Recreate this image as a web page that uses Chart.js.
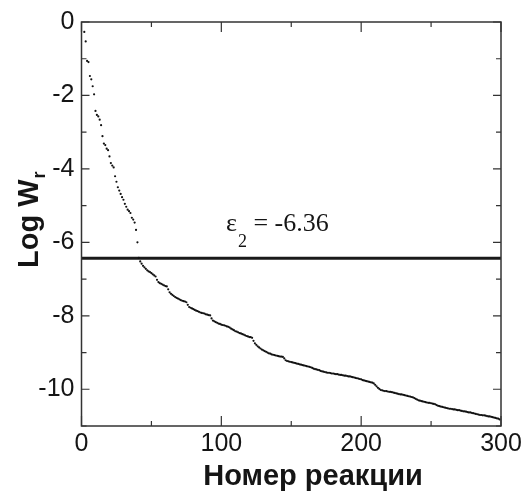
<!DOCTYPE html>
<html>
<head>
<meta charset="utf-8">
<script src="https://cdn.jsdelivr.net/npm/chart.js@4.4.0/dist/chart.umd.min.js"></script>
<style>
  body { margin: 0; background: #fff; }
  canvas { display: block; }
</style>
</head>
<body>
<canvas id="rates-chart" width="526" height="493"></canvas>
<script>
// Log W_r per reaction, starting from reaction number 2
var firstReaction = 2;
var logW = [
  -0.27, -0.53, -1.06, -1.09, -1.47, -1.56, -1.75, -1.97, -2.42, -2.53,
  -2.57, -2.66, -2.81, -3.11, -3.31, -3.35, -3.45, -3.49, -3.66, -3.84,
  -3.91, -3.96, -4.2, -4.35, -4.5, -4.59, -4.68, -4.77, -4.84, -4.95,
  -5.03, -5.11, -5.15, -5.2, -5.33, -5.38, -5.46, -5.66, -6.0,
  -6.42, -6.52, -6.58, -6.64, -6.68, -6.72, -6.76, -6.79, -6.81, -6.84,
  -6.87, -6.9, -6.93, -7.02, -7.08, -7.11, -7.13, -7.15, -7.17, -7.19,
  -7.2, -7.28, -7.36, -7.4, -7.43, -7.46, -7.49, -7.51, -7.53, -7.55,
  -7.57, -7.59, -7.6, -7.61, -7.63, -7.7, -7.76, -7.78, -7.8, -7.82,
  -7.84, -7.86, -7.87, -7.89, -7.91, -7.92, -7.93, -7.94, -7.96, -7.97,
  -7.98, -7.99, -8.07, -8.13, -8.15, -8.17, -8.19, -8.21, -8.22, -8.24,
  -8.25, -8.26, -8.27, -8.29, -8.3, -8.32, -8.35, -8.37, -8.39, -8.42,
  -8.43, -8.45, -8.47, -8.48, -8.5, -8.51, -8.53, -8.55, -8.56, -8.58,
  -8.58, -8.6, -8.68, -8.75, -8.79, -8.83, -8.86, -8.89, -8.92, -8.94,
  -8.96, -8.98, -9.0, -9.02, -9.03, -9.05, -9.06, -9.07, -9.08, -9.09,
  -9.1, -9.11, -9.11, -9.12, -9.16, -9.21, -9.23, -9.24, -9.25, -9.26,
  -9.27, -9.28, -9.29, -9.3, -9.31, -9.32, -9.33, -9.34, -9.35, -9.36,
  -9.37, -9.38, -9.39, -9.4, -9.42, -9.44, -9.45, -9.46, -9.47, -9.48,
  -9.5, -9.51, -9.52, -9.53, -9.54, -9.55, -9.55, -9.56, -9.57, -9.57,
  -9.58, -9.59, -9.59, -9.6, -9.61, -9.61, -9.62, -9.63, -9.63, -9.64,
  -9.65, -9.65, -9.66, -9.67, -9.68, -9.69, -9.7, -9.71, -9.72, -9.73,
  -9.75, -9.76, -9.77, -9.78, -9.79, -9.8, -9.81, -9.82, -9.84, -9.88,
  -9.92, -9.96, -9.99, -10.02, -10.03, -10.04, -10.05, -10.05, -10.06, -10.07,
  -10.07, -10.08, -10.09, -10.1, -10.11, -10.12, -10.13, -10.14, -10.14, -10.15,
  -10.16, -10.17, -10.18, -10.19, -10.2, -10.21, -10.22, -10.24, -10.26, -10.28,
  -10.3, -10.31, -10.32, -10.33, -10.34, -10.35, -10.36, -10.37, -10.37, -10.38,
  -10.39, -10.4, -10.41, -10.43, -10.45, -10.46, -10.47, -10.48, -10.49, -10.5,
  -10.51, -10.52, -10.53, -10.53, -10.54, -10.55, -10.55, -10.56, -10.57, -10.57,
  -10.58, -10.59, -10.6, -10.6, -10.61, -10.62, -10.63, -10.63, -10.64, -10.65,
  -10.66, -10.67, -10.68, -10.69, -10.7, -10.7, -10.71, -10.71, -10.72, -10.73,
  -10.74, -10.74, -10.75, -10.76, -10.77, -10.78, -10.79, -10.8, -10.82
];

// threshold line: labelled value and where it is drawn
var epsilonLabel = "-6.36";
var epsilonLevel = -6.43;
var thresholdX = [0, 300];

var xTicksMajor = [0, 100, 200, 300];
var xTicksMinor = [50, 150, 250];
var yTicksMajor = [0, -2, -4, -6, -8, -10];
var yTicksMinor = [-1, -3, -5, -7, -9, -11];

var xTitle = "Номер реакции";
var yTitle = "Log W";
var yTitleSub = "r";

var ink = "#151515";
var sansFont = "'Liberation Sans', Arial, Helvetica, sans-serif";
var serifFont = "'Liberation Serif', 'Times New Roman', serif";

var points = logW.map(function (v, i) {
  return { x: firstReaction + i, y: v };
});

// frame, inward ticks, axis titles and the epsilon label
var framePlugin = {
  id: "frame",
  afterDraw: function (chart) {
    var ctx = chart.ctx;
    var a = chart.chartArea;
    var xs = chart.scales.x;
    var ys = chart.scales.y;
    ctx.save();
    ctx.strokeStyle = "#333";
    ctx.lineWidth = 1.5;
    ctx.strokeRect(a.left, a.top, a.right - a.left, a.bottom - a.top);

    ctx.lineWidth = 1.2;
    ctx.beginPath();
    function xTick(v, len) {
      var px = xs.getPixelForValue(v);
      ctx.moveTo(px, a.bottom); ctx.lineTo(px, a.bottom - len);
      ctx.moveTo(px, a.top); ctx.lineTo(px, a.top + len);
    }
    function yTick(v, len) {
      var py = ys.getPixelForValue(v);
      ctx.moveTo(a.left, py); ctx.lineTo(a.left + len, py);
      ctx.moveTo(a.right, py); ctx.lineTo(a.right - len, py);
    }
    xTicksMajor.forEach(function (v) { xTick(v, 10); });
    xTicksMinor.forEach(function (v) { xTick(v, 5); });
    yTicksMajor.forEach(function (v) { yTick(v, 8); });
    yTicksMinor.forEach(function (v) { yTick(v, 5); });
    ctx.stroke();

    ctx.fillStyle = ink;
    ctx.textBaseline = "alphabetic";

    // x title
    ctx.font = "bold 29px " + sansFont;
    ctx.textAlign = "center";
    ctx.fillText(xTitle, 313, 485);

    // y title, rotated, with subscript
    ctx.save();
    ctx.translate(38, 268);
    ctx.rotate(-Math.PI / 2);
    ctx.textAlign = "left";
    ctx.font = "bold 29px " + sansFont;
    ctx.fillText(yTitle, 0, 0);
    var w = ctx.measureText(yTitle).width;
    ctx.font = "bold 18px " + sansFont;
    ctx.fillText(yTitleSub, w + 1, 7);
    ctx.restore();

    // epsilon label
    ctx.textAlign = "left";
    ctx.font = "26px " + serifFont;
    var lx = 226;
    ctx.fillText("ε", lx, 231);
    lx += ctx.measureText("ε").width + 1;
    ctx.font = "18px " + serifFont;
    ctx.fillText("2", lx, 247);
    lx += ctx.measureText("2").width;
    ctx.font = "26px " + serifFont;
    ctx.fillText(" = " + epsilonLabel, lx, 231);
    ctx.restore();
  },
};

var ctxRates = document.getElementById("rates-chart").getContext("2d");

var ratesChart = new Chart(ctxRates, {
  type: "scatter",
  data: {
    datasets: [
      {
        label: "threshold",
        type: "line",
        data: thresholdX.map(function (x) { return { x: x, y: epsilonLevel }; }),
        borderColor: "#1a1a1a",
        borderWidth: 3,
        pointRadius: 0,
        order: 1,
      },
      {
        label: "Log Wr",
        data: points,
        backgroundColor: "#111",
        borderWidth: 0,
        pointRadius: 1.1,
        order: 0,
      },
    ],
  },
  options: {
    responsive: false,
    devicePixelRatio: 1,
    animation: false,
    layout: { padding: { top: 16, right: 25, left: 0, bottom: 0 } },
    plugins: {
      legend: { display: false },
      tooltip: { enabled: false },
    },
    scales: {
      x: {
        type: "linear",
        min: 0,
        max: 300,
        grid: { display: false, drawTicks: false },
        border: { display: false },
        ticks: {
          stepSize: 100,
          padding: 3,
          color: ink,
          font: { size: 25, family: sansFont },
          maxRotation: 0,
        },
        afterFit: function (scale) { scale.height = 67; },
      },
      y: {
        min: -11,
        max: 0,
        grid: { display: false, drawTicks: false },
        border: { display: false },
        ticks: {
          stepSize: 1,
          padding: 7,
          color: ink,
          font: { size: 25, family: sansFont },
          callback: function (v) { return v % 2 === 0 ? String(v) : ""; },
        },
        afterFit: function (scale) { scale.width = 81.5; },
      },
    },
  },
  plugins: [framePlugin],
});
</script>
</body>
</html>
